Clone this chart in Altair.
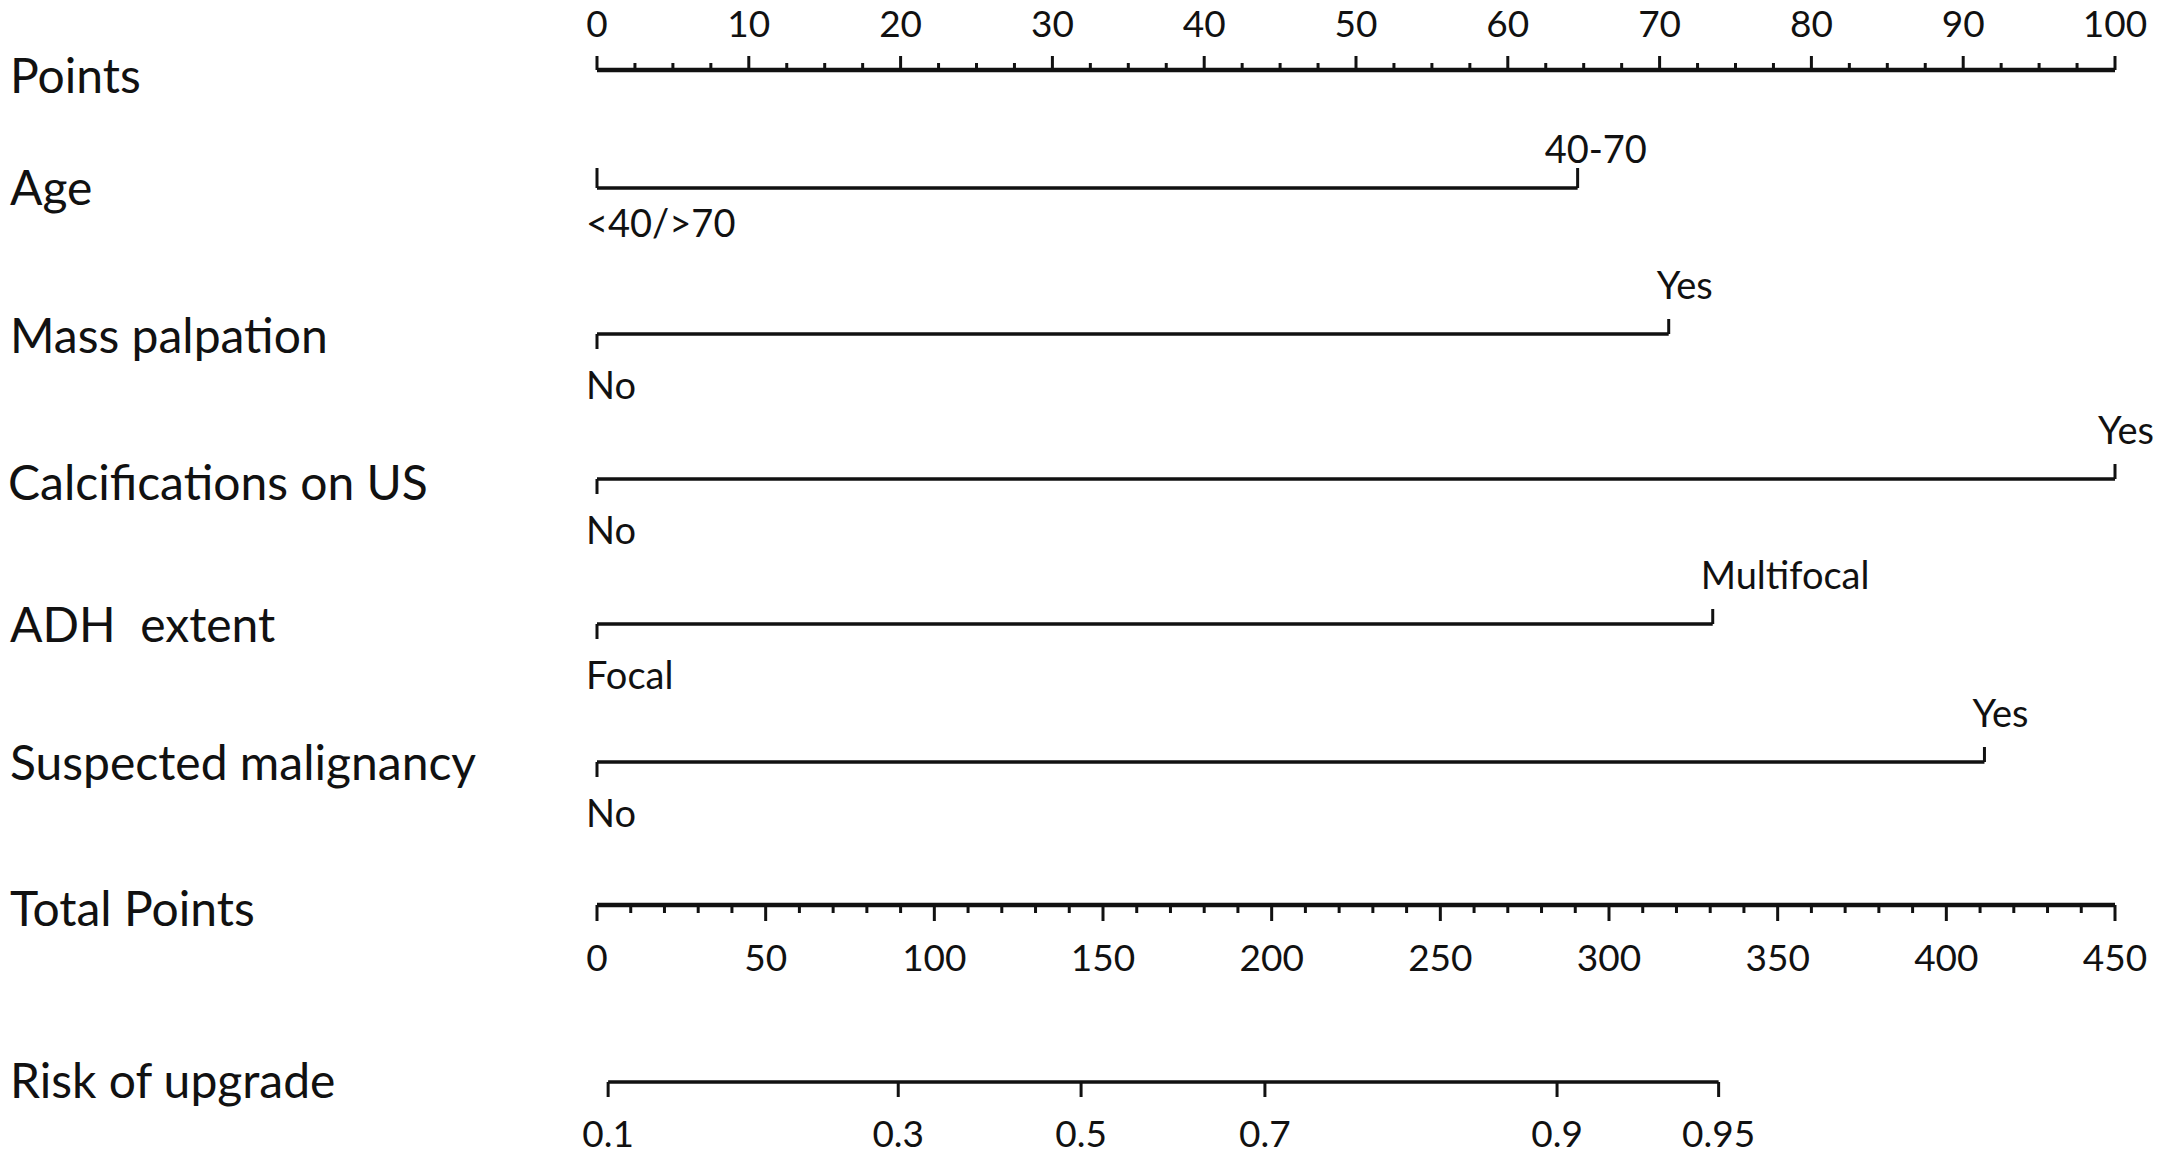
import altair as alt
import pandas as pd

# ---------------- data ----------------
row_names = ["Points", "Age", "Mass palpation", "Calcifications on US",
             "ADH\u00a0\u00a0extent", "Suspected malignancy", "Total Points", "Risk of upgrade"]

points_major = [0, 10, 20, 30, 40, 50, 60, 70, 80, 90, 100]
points_minor = [v * 2.5 for v in range(0, 41)]

var_names = ["Age", "Mass palpation", "Calcifications on US", "ADH\u00a0\u00a0extent", "Suspected malignancy"]
low_labels = ["<40/>70", "No", "No", "Focal", "No"]
high_labels = ["40-70", "Yes", "Yes", "Multifocal", "Yes"]
low_points = [0, 0, 0, 0, 0]
high_points = [64.6, 70.6, 100, 73.5, 91.4]

total_major = [0, 50, 100, 150, 200, 250, 300, 350, 400, 450]
total_minor = list(range(0, 451, 10))
TOTAL_MAX = 450

risk_labels = ["0.1", "0.3", "0.5", "0.7", "0.9", "0.95"]
risk_total_points = [3.3, 89.3, 143.5, 198.0, 284.6, 332.5]

# ---------------- layout (pixels in the plot area) ----------------
W, H = 2149, 1145
X0_PX, X100_PX = 589, 2107
PX_PER_PT = (X100_PX - X0_PX) / 100.0
X_DOMAIN = [-X0_PX / PX_PER_PT, (W - X0_PX) / PX_PER_PT]

ROW_Y = {"Points": 62, "Age": 180, "Mass palpation": 326, "Calcifications on US": 471,
         "ADH\u00a0\u00a0extent": 616, "Suspected malignancy": 754, "Total Points": 897,
         "Risk of upgrade": 1074}
ROW_LABEL_X = {n: 2 for n in row_names}
ROW_LABEL_X["Calcifications on US"] = 0
ROW_LABEL_DY = {"Points": 9, "Age": 3, "Mass palpation": 5, "Calcifications on US": 7,
                "ADH\u00a0\u00a0extent": 4, "Suspected malignancy": 4, "Total Points": 7,
                "Risk of upgrade": 2}

UP_DY = {n: -46 for n in var_names}
UP_DY["Age"] = -36
LOW_DY = {n: 54 for n in var_names}
LOW_DY["Age"] = 38
UP_SHIFT = {n: -12 for n in var_names}
UP_SHIFT["Age"] = -33
UP_SHIFT["Calcifications on US"] = -17
LOW_SHIFT = -11

TICK_LEN = 15
AGE_TICK_LEN = 20
PTS_MAJOR_LEN, PTS_MINOR_LEN = 14, 7
TOT_MAJOR_LEN, TOT_MINOR_LEN = 16, 8
LINE_W, AXIS_W, TICK_W = 3.5, 4.5, 3

FONT = "Lato"
ROW_FS, TICK_FS, CAT_FS = 48, 37, 38

def to_pts(total):
    return total * 100.0 / TOTAL_MAX

# ---------------- build tables ----------------
rules = []
# Points axis
py = ROW_Y["Points"]
rules.append(dict(x=0, x2=100, y=py, y2=py, w=AXIS_W))
for v in points_minor:
    ln = PTS_MAJOR_LEN if v in points_major else PTS_MINOR_LEN
    rules.append(dict(x=v, x2=v, y=py, y2=py - ln, w=TICK_W))

# variable rows
for name, lo, hi in zip(var_names, low_points, high_points):
    ry = ROW_Y[name]
    rules.append(dict(x=lo, x2=hi, y=ry, y2=ry, w=LINE_W))
    if name == "Age":
        rules.append(dict(x=lo, x2=lo, y=ry, y2=ry - AGE_TICK_LEN, w=TICK_W))
        rules.append(dict(x=hi, x2=hi, y=ry, y2=ry - AGE_TICK_LEN, w=TICK_W))
    else:
        rules.append(dict(x=lo, x2=lo, y=ry, y2=ry + TICK_LEN, w=TICK_W))
        rules.append(dict(x=hi, x2=hi, y=ry, y2=ry - TICK_LEN, w=TICK_W))

# Total points axis
ty = ROW_Y["Total Points"]
rules.append(dict(x=0, x2=to_pts(TOTAL_MAX), y=ty, y2=ty, w=AXIS_W))
for v in total_minor:
    ln = TOT_MAJOR_LEN if v in total_major else TOT_MINOR_LEN
    rules.append(dict(x=to_pts(v), x2=to_pts(v), y=ty, y2=ty + ln, w=TICK_W))

# Risk axis
ky = ROW_Y["Risk of upgrade"]
rules.append(dict(x=to_pts(risk_total_points[0]), x2=to_pts(risk_total_points[-1]),
                  y=ky, y2=ky, w=LINE_W))
for v in risk_total_points:
    rules.append(dict(x=to_pts(v), x2=to_pts(v), y=ky, y2=ky + TICK_LEN, w=TICK_W))

rules_df = pd.DataFrame(rules)

# centered tick labels
tick_text = []
for v in points_major:
    tick_text.append(dict(x=v, y=18, t=str(v)))
for v in total_major:
    tick_text.append(dict(x=to_pts(v), y=952, t=str(v)))
for lab, v in zip(risk_labels, risk_total_points):
    tick_text.append(dict(x=to_pts(v), y=1128, t=lab))
tick_df = pd.DataFrame(tick_text)

# category labels (left aligned)
cat_text = []
for name, lo, hi, ll, hl in zip(var_names, low_points, high_points, low_labels, high_labels):
    ry = ROW_Y[name]
    cat_text.append(dict(x=hi + UP_SHIFT[name] / PX_PER_PT, y=ry + UP_DY[name], t=hl))
    cat_text.append(dict(x=lo + LOW_SHIFT / PX_PER_PT, y=ry + LOW_DY[name], t=ll))
cat_df = pd.DataFrame(cat_text)

# row labels
row_df = pd.DataFrame([dict(x=X_DOMAIN[0] + ROW_LABEL_X[n] / PX_PER_PT,
                            y=ROW_Y[n] + ROW_LABEL_DY[n], t=n) for n in row_names])

xs = alt.Scale(domain=X_DOMAIN, nice=False, zero=False)
ys = alt.Scale(domain=[0, H], reverse=True, nice=False, zero=False)

rule_layer = alt.Chart(rules_df).mark_rule(color="#111111", strokeCap="butt").encode(
    x=alt.X("x:Q", scale=xs, axis=None),
    x2="x2:Q",
    y=alt.Y("y:Q", scale=ys, axis=None),
    y2="y2:Q",
    strokeWidth=alt.StrokeWidth("w:Q", scale=None, legend=None),
)

tick_layer = alt.Chart(tick_df).mark_text(
    font=FONT, fontSize=TICK_FS, align="center", baseline="middle", color="#111111"
).encode(
    x=alt.X("x:Q", scale=xs, axis=None),
    y=alt.Y("y:Q", scale=ys, axis=None),
    text="t:N",
)

cat_layer = alt.Chart(cat_df).mark_text(
    font=FONT, fontSize=CAT_FS, align="left", baseline="middle", color="#111111"
).encode(
    x=alt.X("x:Q", scale=xs, axis=None),
    y=alt.Y("y:Q", scale=ys, axis=None),
    text="t:N",
)

row_layer = alt.Chart(row_df).mark_text(
    font=FONT, fontSize=ROW_FS, align="left", baseline="middle", color="#111111"
).encode(
    x=alt.X("x:Q", scale=xs, axis=None),
    y=alt.Y("y:Q", scale=ys, axis=None),
    text="t:N",
)

chart = alt.layer(rule_layer, tick_layer, cat_layer, row_layer).properties(
    width=W, height=H, padding=0, autosize="none", background="white"
).configure_view(strokeWidth=0)

chart.save("out.html", embed_options={"renderer": "svg", "actions": False})
